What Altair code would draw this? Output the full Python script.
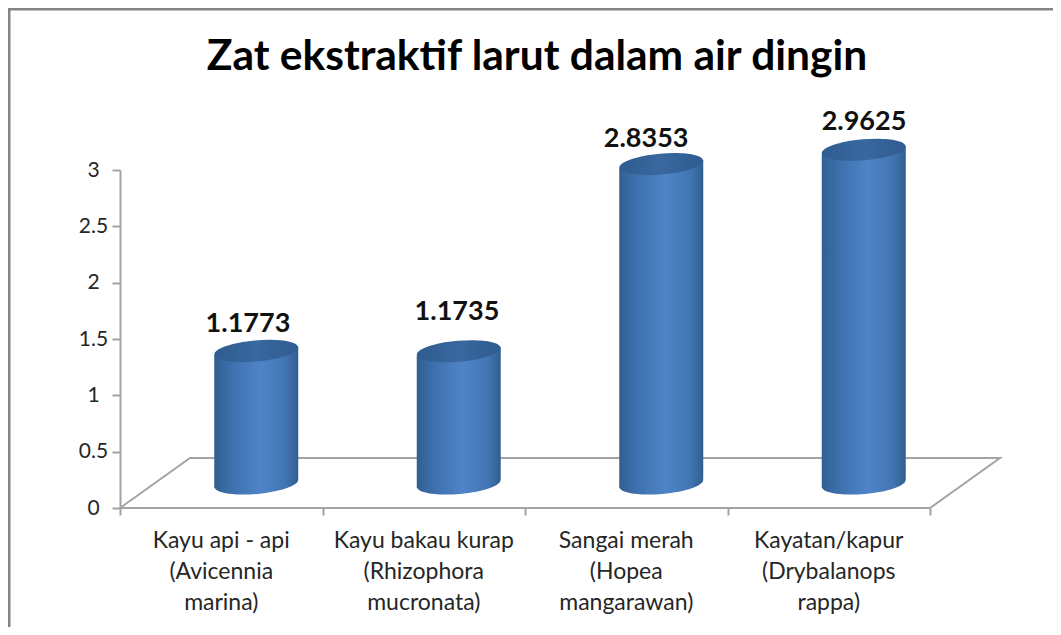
import altair as alt
import pandas as pd

title_text = "Zat ekstraktif larut dalam air dingin"
categories = [
    "Kayu api - api\n(Avicennia\nmarina)",
    "Kayu bakau kurap\n(Rhizophora\nmucronata)",
    "Sangai merah\n(Hopea\nmangarawan)",
    "Kayatan/kapur\n(Drybalanops\nrappa)",
]
values = [1.1773, 1.1735, 2.8353, 2.9625]
value_labels = ["1.1773", "1.1735", "2.8353", "2.9625"]
positions = [0.5, 1.5, 2.5, 3.5]
label_x = [0.632, 1.664, 2.598, 3.674]
label_y = [1.562, 1.669, 3.204, 3.355]

# plot geometry
W, H = 810, 338
PAD_L, PAD_T = 112, 162
TOTAL_W, TOTAL_H = 1053, 619
X_SCALE = alt.Scale(domain=[0, 4], nice=False, zero=False)
Y_SCALE = alt.Scale(domain=[0, 3], nice=False, zero=False)

# floor parallelogram of the 3-D chart, in axis units
floor_x = [0, 0.3457, 4.3457, 4, 0]
floor_y = [0, 0.4438, 0.4438, 0, 0]
floor_df = pd.DataFrame({"x": floor_x, "y": floor_y, "o": range(5)})

half_w = 42 / (W / 4)
tilt = 4 / (H / 3)
CYL_DX, CYL_DY = 35, -24.5

body = pd.DataFrame(
    [
        {"cat": c, "x": p + s * half_w, "top": v + s * tilt, "bottom": s * tilt}
        for c, p, v in zip(categories, positions, values)
        for s in (-1, 1)
    ]
)
cyl = pd.DataFrame({"cat": categories, "x": positions, "v": values, "zero": [0, 0, 0, 0]})
lab = pd.DataFrame({"x": label_x, "y": label_y, "t": value_labels})
cat_df = pd.DataFrame({"x": positions, "y": [0, 0, 0, 0], "t": categories})

side = alt.LinearGradient(
    gradient="linear", x1=0, x2=1, y1=0, y2=0,
    stops=[
        alt.GradientStop(offset=0, color="#31608F"),
        alt.GradientStop(offset=0.2, color="#3D6FAD"),
        alt.GradientStop(offset=0.55, color="#4F85C8"),
        alt.GradientStop(offset=0.85, color="#4174B2"),
        alt.GradientStop(offset=1, color="#305F90"),
    ],
)
cap = alt.LinearGradient(
    gradient="linear", x1=0, x2=1, y1=0, y2=0,
    stops=[
        alt.GradientStop(offset=0, color="#2F5C90"),
        alt.GradientStop(offset=0.5, color="#38689F"),
        alt.GradientStop(offset=1, color="#2F5C90"),
    ],
)
ELLIPSE = "M -0.996 0.09 A 1 0.25 -5 1 1 0.996 -0.09 A 1 0.25 -5 1 1 -0.996 0.09 Z"
GRID = "#A3A3A3"
TXT = "#262626"

x_enc = alt.X(
    "x:Q", scale=X_SCALE, title=None,
    axis=alt.Axis(values=[0, 1, 2, 3, 4], labels=False, domain=False, grid=False,
                  tickSize=7, tickWidth=2, tickColor=GRID),
)
y_enc = alt.Y(
    "y:Q", scale=Y_SCALE, title=None,
    axis=alt.Axis(values=[0, 0.5, 1, 1.5, 2, 2.5, 3], format="~g", grid=False,
                  domainColor=GRID, domainWidth=2, tickColor=GRID, tickWidth=2, tickSize=8,
                  labelFont="Lato", labelFontSize=21, labelColor=TXT, labelAlign="center",
                  labelPadding=19, labelBaseline="middle"),
)

one = pd.DataFrame({"a": [0]})
frame_left = alt.Chart(one).mark_rule(color="#858585", strokeWidth=3).encode(
    x=alt.value(-PAD_L + 1), y=alt.value(-PAD_T), y2=alt.value(TOTAL_H - PAD_T)
)
frame_top = alt.Chart(one).mark_rule(color="#858585", strokeWidth=3).encode(
    x=alt.value(-PAD_L), x2=alt.value(TOTAL_W - PAD_L - 8), y=alt.value(-PAD_T + 1)
)

title_mark = alt.Chart(pd.DataFrame({"t": [title_text]})).mark_text(
    font="Lato", fontWeight="bold", fontSize=42.5, color="#000000", baseline="alphabetic", align="center",
).encode(x=alt.value(417), y=alt.value(-100), text="t:N")

floor = alt.Chart(floor_df).mark_line(color=GRID, strokeWidth=2).encode(
    x=x_enc, y=y_enc, order="o:Q"
)

bottom_cap = alt.Chart(cyl).mark_point(
    filled=True, size=7056, shape=ELLIPSE, opacity=1, fill=side, stroke=None,
    xOffset=CYL_DX, yOffset=CYL_DY,
).encode(x=alt.X("x:Q", scale=X_SCALE), y=alt.Y("zero:Q", scale=Y_SCALE))

cyl_body = alt.Chart(body).mark_area(
    fill=side, xOffset=CYL_DX, yOffset=CYL_DY, y2Offset=CYL_DY, opacity=1,
).encode(
    x=alt.X("x:Q", scale=X_SCALE),
    y=alt.Y("top:Q", scale=Y_SCALE),
    y2="bottom:Q",
    detail="cat:N",
)

top_cap = alt.Chart(cyl).mark_point(
    filled=True, size=7056, shape=ELLIPSE, opacity=1, fill=cap, stroke=None,
    xOffset=CYL_DX, yOffset=CYL_DY,
).encode(x=alt.X("x:Q", scale=X_SCALE), y=alt.Y("v:Q", scale=Y_SCALE))

data_labels = alt.Chart(lab).mark_text(
    font="Lato", fontWeight="bold", fontSize=27, color="#111111", baseline="alphabetic",
).encode(x=alt.X("x:Q", scale=X_SCALE), y=alt.Y("y:Q", scale=Y_SCALE), text="t:N")

cat_labels = alt.Chart(cat_df).mark_text(
    font="Lato", fontSize=23, color=TXT, baseline="top", lineBreak="\n", lineHeight=31, dy=22,
).encode(x=alt.X("x:Q", scale=X_SCALE), y=alt.Y("y:Q", scale=Y_SCALE), text="t:N")

chart = alt.layer(
    frame_left, frame_top, title_mark, floor, bottom_cap, cyl_body, top_cap, data_labels, cat_labels
).properties(
    width=W, height=H,
    autosize=alt.AutoSizeParams(type="none"),
    padding={"left": PAD_L, "top": PAD_T, "right": TOTAL_W - 8 - PAD_L - W, "bottom": TOTAL_H - PAD_T - H},
    background="white",
).configure_view(stroke=None)

chart.save("out.html", embed_options={"renderer": "svg", "actions": False})
